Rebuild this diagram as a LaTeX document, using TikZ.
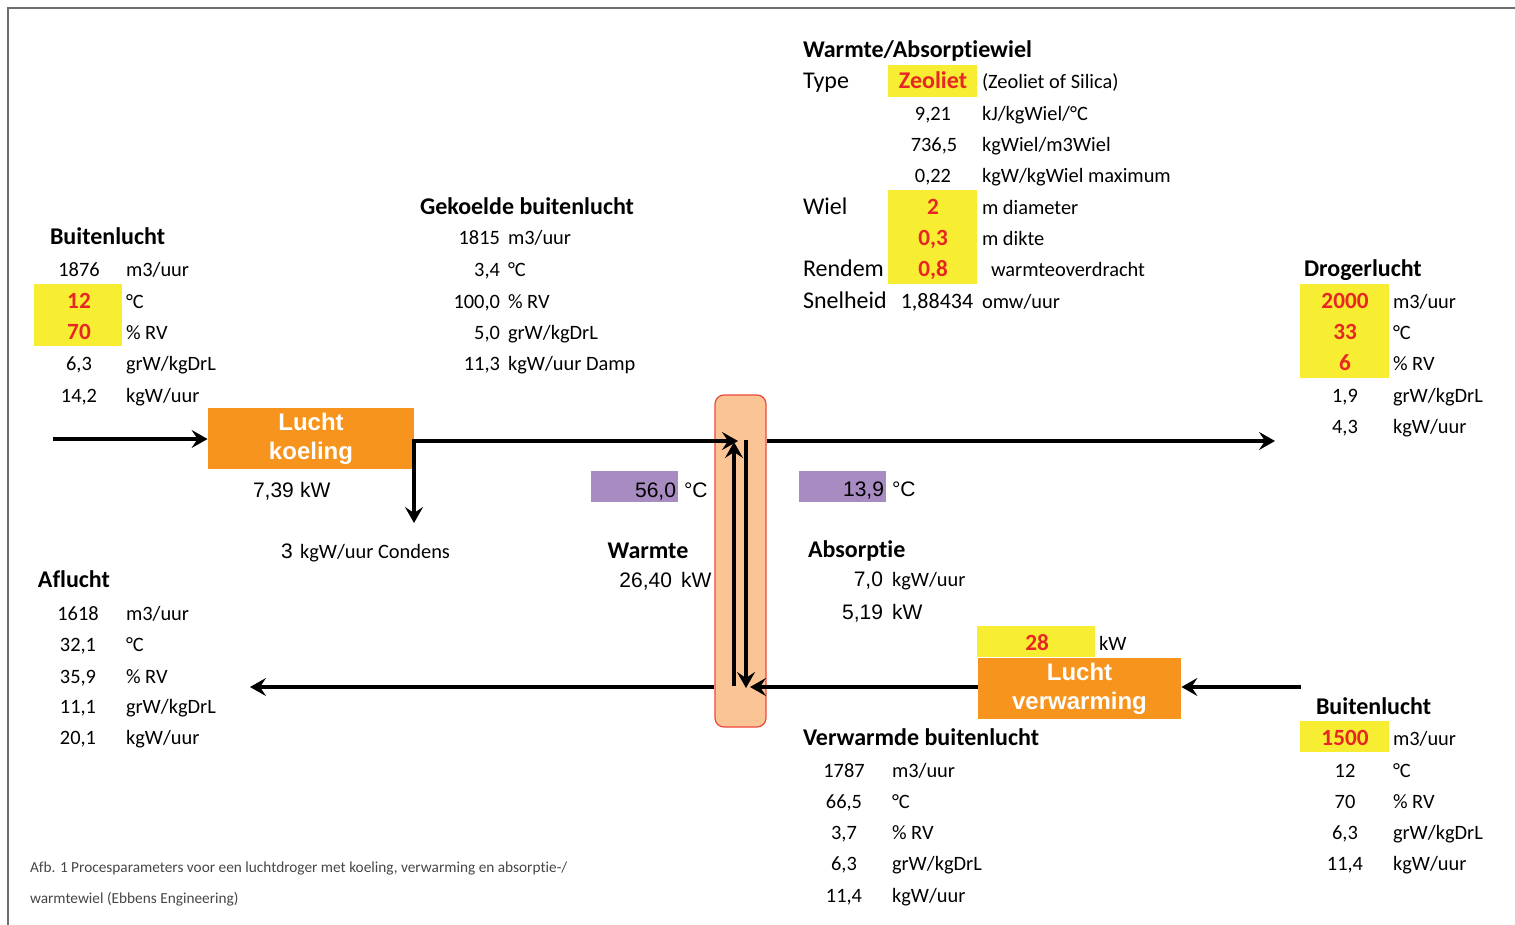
\documentclass[tikz,border=0pt]{standalone}
\usepackage{fontspec}
\setmainfont{Carlito}[Ligatures=NoCommon]
\newfontfamily\arialf{Liberation Sans}
\usetikzlibrary{arrows.meta}
\definecolor{orng}{RGB}{247,148,30}
\definecolor{ylw}{RGB}{247,237,50}
\definecolor{rd}{RGB}{232,38,36}
\definecolor{prp}{RGB}{167,139,193}
\definecolor{pch}{RGB}{250,196,148}
\definecolor{pchb}{RGB}{238,72,62}
\definecolor{frm}{RGB}{110,110,110}
\definecolor{capc}{RGB}{70,70,70}
\tikzset{
 tb/.style={inner sep=0pt, outer sep=0pt, font=\fontsize{10.2}{12}\selectfont, anchor=base west},
 tbc/.style={tb, anchor=base},
 tbe/.style={tb, anchor=base east},
 hd/.style={tb, font=\bfseries\fontsize{12}{14}\selectfont},
 lb/.style={tb, font=\fontsize{12}{14}\selectfont},
 rv/.style={tb, anchor=base, text=rd, font=\bfseries\fontsize{11.6}{14}\selectfont},
 ar/.style={tb, font=\arialf\fontsize{10.5}{12}\selectfont},
 are/.style={ar, anchor=base east},
 tipa/.tip={Stealth[length=8pt, width=9pt, inset=3pt]},
 flow/.style={line width=1.9pt, -tipa},
 flowtwo/.style={line width=1.9pt, tipa-tipa},
 unitbox/.style={fill=orng, text=white, font=\arialf\bfseries\fontsize{12}{15.5}\selectfont, align=center, inner sep=0pt},
 capt/.style={tb, font=\fontsize{7.65}{9}\selectfont, text=capc},
}
\newcommand\vrow[6]{\node[tbc] (#1v) at (#2,#4) {#5}; \node[tb] (#1u) at (#3,#4) {#6};}
\newcommand\rrow[6]{\node[rv] (#1v) at (#2,#4) {#5}; \node[tb] (#1u) at (#3,#4) {#6};}
\newcommand\erow[6]{\node[tbe] (#1v) at (#2,#4) {#5}; \node[tb] (#1u) at (#3,#4) {#6};}
\begin{document}
\begin{tikzpicture}[x=0.5pt,y=-0.5pt]
\useasboundingbox (0,0) rectangle (1515,925);
\draw[frm, line width=1pt] (8,925) -- (8,8) -- (1515,8);

% highlight backgrounds
\fill[ylw] (34,284) rectangle (122,346);
\fill[ylw] (888,65) rectangle (977,97);
\fill[ylw] (888,190) rectangle (977,284);
\fill[ylw] (1300,284) rectangle (1389,378);
\fill[ylw] (977,626) rectangle (1095,657);
\fill[ylw] (1300,721) rectangle (1389,752);
\fill[prp] (591,471) rectangle (678,502);
\fill[prp] (799,471) rectangle (886,502);

% units
\node[unitbox, minimum width=103pt, minimum height=30.5pt] (koel) at (311,438.5) {\raisebox{-1pt}{Lucht}\\koeling};
\node[unitbox, minimum width=101.5pt, minimum height=30.5pt] (verw) at (1079.5,688.5) {\raisebox{-1pt}{Lucht}\\verwarming};
\node[fill=pch, draw=pchb, line width=0.6pt, rounded corners=4.5pt, minimum width=25.5pt, minimum height=166pt, inner sep=0pt] (wheel) at (740.5,561) {};

% connectors
\coordinate (inKoel) at (53,439);
\coordinate (split) at (414,441);
\coordinate (cond) at (414,523);
\coordinate (wTop) at (738,441);
\coordinate (wUpB) at (734,686);
\coordinate (wUpT) at (734,442);
\coordinate (wDnT) at (746,440);
\coordinate (wDnB) at (746,688);
\coordinate (dry) at (1275,441);
\coordinate (brIn) at (1301,687);
\coordinate (wBot) at (750,687);
\coordinate (afl) at (250,687);
\draw[flow] (inKoel) -- (koel.west |- inKoel);
\draw[flowtwo] (cond) -- (split) -- (wTop);
\draw[flow] (wUpB) -- (wUpT);
\draw[flow] (wDnT) -- (wDnB);
\draw[flow] (wheel.east |- split) -- (dry);
\draw[flow] (brIn) -- (verw.east |- brIn);
\draw[flow] (verw.west |- brIn) -- (wBot);
\draw[flow] (wheel.west |- brIn) -- (afl);

% Buitenlucht (top left)
\node[hd] (bl1h) at (50,245) {Buitenlucht};
\vrow{bl1a}{79}{126}{277}{1876}{m3/uur}
\rrow{bl1b}{79}{126}{308}{12}{°C}
\rrow{bl1c}{79}{126}{339}{70}{\% RV}
\vrow{bl1d}{79}{126}{370}{6,3}{grW/kgDrL}
\vrow{bl1e}{79}{126}{402}{14,2}{kgW/uur}

% Gekoelde buitenlucht
\node[hd, anchor=base] (gkh) at (527,215) {Gekoelde buitenlucht};
\erow{gka}{500}{508}{245}{1815}{m3/uur}
\erow{gkb}{500}{508}{277}{3,4}{°C}
\erow{gkc}{500}{508}{308}{100,0}{\% RV}
\erow{gkd}{500}{508}{339}{5,0}{grW/kgDrL}
\erow{gke}{500}{508}{370}{11,3}{kgW/uur Damp}

% Warmte/Absorptiewiel
\node[hd] (wah) at (803,58) {Warmte/Absorptiewiel};
\node[lb] (wat) at (803,89) {Type};
\node[rv, font=\bfseries\fontsize{12}{14}\selectfont] (waz) at (933,89) {Zeoliet};
\node[tb] (wazu) at (982,89) {(Zeoliet of Silica)};
\vrow{wab}{933}{982}{121}{9,21}{kJ/kgWiel/°C}
\vrow{wac}{934}{982}{152}{736,5}{kgWiel/m3Wiel}
\vrow{wad}{933}{982}{183}{0,22}{kgW/kgWiel maximum}
\node[lb] (waw) at (803,215) {Wiel};
\rrow{wae}{933}{982}{215}{2}{m diameter}
\rrow{waf}{933}{982}{246}{0,3}{m dikte}
\node[lb] (war) at (803,277) {Rendem};
\rrow{wag}{933}{991}{277}{0,8}{warmteoverdracht}
\node[lb] (was) at (803,308) {Snelheid};
\node[tbc, font=\fontsize{11}{13}\selectfont] (wasv) at (937,308) {1,88434};
\node[tb] (wasu) at (982,308) {omw/uur};

% Drogerlucht
\node[hd] (drh) at (1304,277) {Drogerlucht};
\rrow{dra}{1345}{1393}{308}{2000}{m3/uur}
\rrow{drb}{1345}{1393}{339}{33}{°C}
\rrow{drc}{1345}{1393}{370}{6}{\% RV}
\vrow{drd}{1345}{1393}{402}{1,9}{grW/kgDrL}
\vrow{dre}{1345}{1393}{433}{4,3}{kgW/uur}

% middle labels
\node[ar] (kw1v) at (253,497) {7,39};
\node[ar] (kw1u) at (300,497) {kW};
\node[ar] (cnv) at (281,558) {3};
\node[tb] (cnu) at (300,558) {kgW/uur Condens};
\node[are] (t56) at (676,497) {56,0};
\node[ar] (t56u) at (684,497) {°C};
\node[are] (t139) at (884,496) {13,9};
\node[ar] (t139u) at (892,496) {°C};
\node[hd, anchor=base] (wmh) at (648,558) {Warmte};
\node[are] (wmv) at (672,587) {26,40};
\node[ar] (wmu) at (681,587) {kW};
\node[hd] (abh) at (808,557) {Absorptie};
\node[are] (aba) at (883,586) {7,0};
\node[tb] (abau) at (892,586) {kgW/uur};
\node[are] (abb) at (883,619) {5,19};
\node[ar] (abbu) at (892,619) {kW};
\node[rv] (hk) at (1037,650) {28};
\node[tb] (hku) at (1099,650) {kW};

% Aflucht
\node[hd] (afh) at (38,587) {Aflucht};
\vrow{afa}{78}{126}{620}{1618}{m3/uur}
\vrow{afb}{78}{126}{651}{32,1}{°C}
\vrow{afc}{78}{126}{683}{35,9}{\% RV}
\vrow{afd}{78}{126}{713}{11,1}{grW/kgDrL}
\vrow{afe}{78}{126}{744}{20,1}{kgW/uur}

% Verwarmde buitenlucht
\node[hd] (vwh) at (803,745) {Verwarmde buitenlucht};
\vrow{vwa}{844}{892}{777}{1787}{m3/uur}
\vrow{vwb}{844}{892}{808}{66,5}{°C}
\vrow{vwc}{844}{892}{839}{3,7}{\% RV}
\vrow{vwd}{844}{892}{870}{6,3}{grW/kgDrL}
\vrow{vwe}{844}{892}{902}{11,4}{kgW/uur}

% Buitenlucht (bottom right)
\node[hd] (bl2h) at (1316,714) {Buitenlucht};
\rrow{bl2a}{1345}{1393}{745}{1500}{m3/uur}
\vrow{bl2b}{1345}{1393}{777}{12}{°C}
\vrow{bl2c}{1345}{1393}{808}{70}{\% RV}
\vrow{bl2d}{1345}{1393}{839}{6,3}{grW/kgDrL}
\vrow{bl2e}{1345}{1393}{870}{11,4}{kgW/uur}

% caption
\node[capt] (cap1) at (30,872) {Afb. 1 Procesparameters voor een luchtdroger met koeling, verwarming en absorptie-/};
\node[capt] (cap2) at (30,903) {warmtewiel (Ebbens Engineering)};
\end{tikzpicture}
\end{document}
